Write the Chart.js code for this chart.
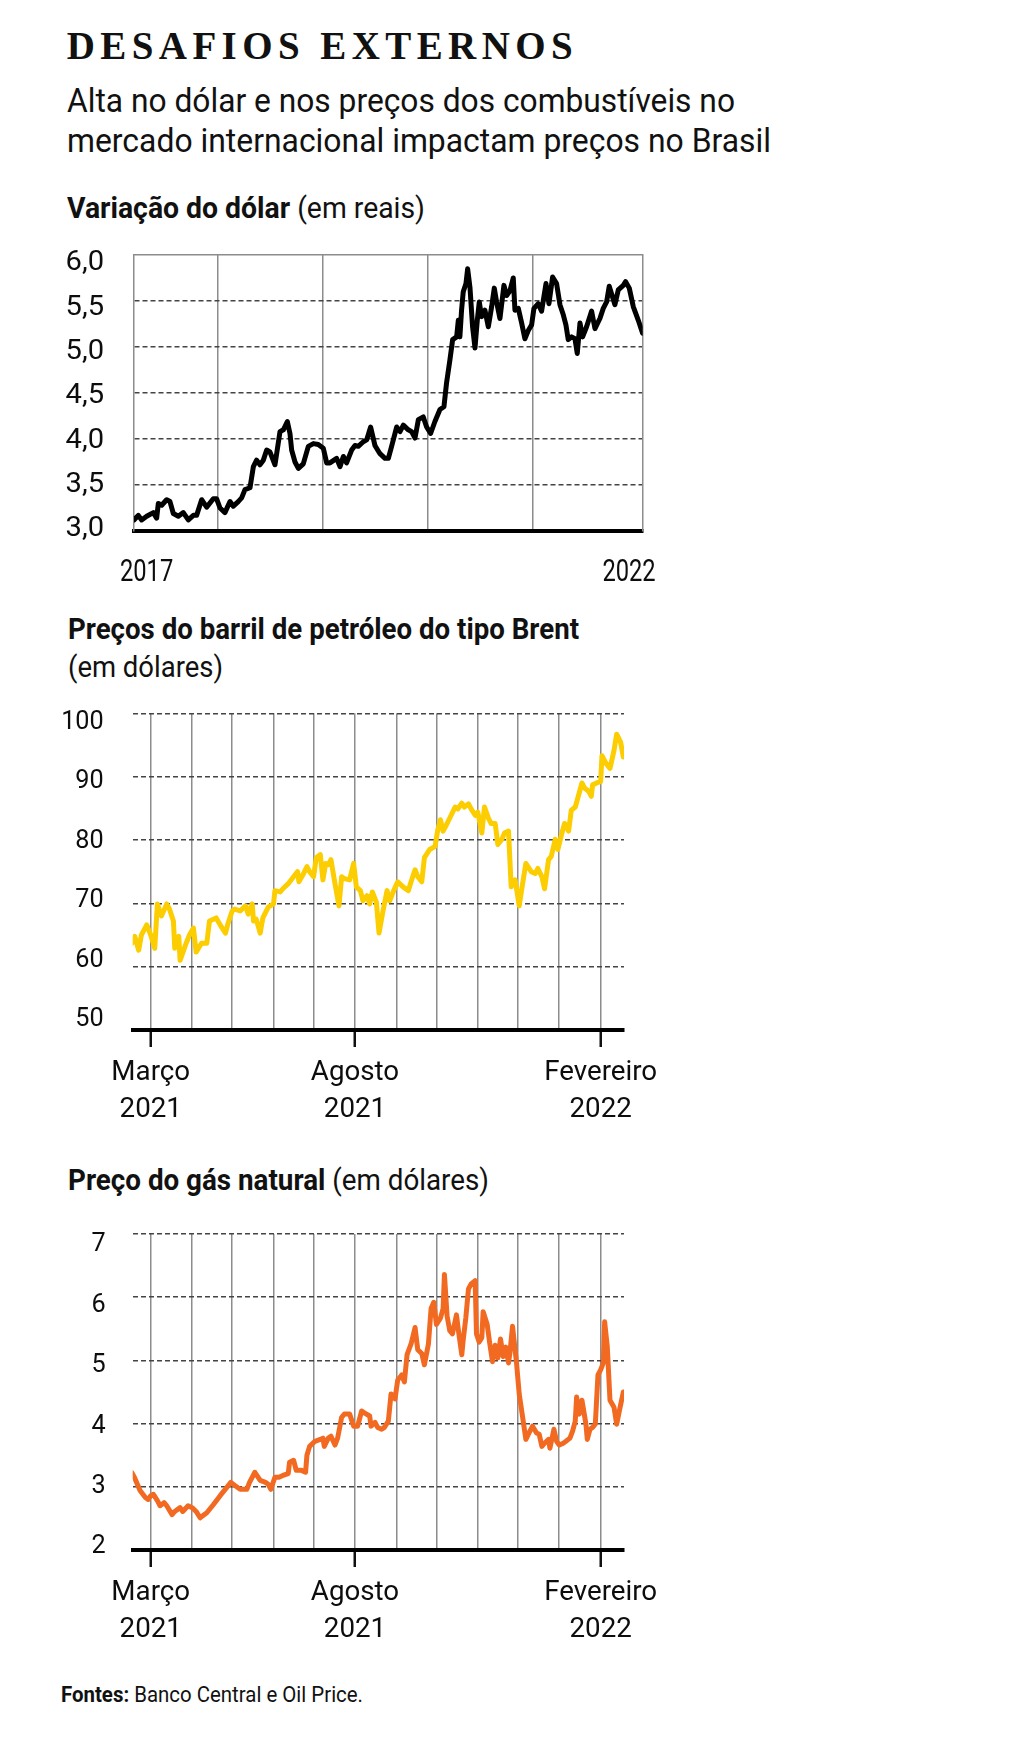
<!DOCTYPE html>
<html lang="pt-BR">
<head>
<meta charset="utf-8">
<script src="https://cdn.jsdelivr.net/npm/chart.js@4.4.1/dist/chart.umd.min.js"></script>
<style>
html,body{margin:0;padding:0;background:#fff;}
body{width:1024px;height:1743px;position:relative;overflow:hidden;}
.t{position:absolute;white-space:nowrap;line-height:1;color:#111;transform-origin:0 0;
   font-family:Roboto,'Liberation Sans',sans-serif;}
.t b{font-weight:700;}
#title{font-family:'Liberation Serif','DejaVu Serif',serif;font-weight:700;font-size:39px;}
#sub1,#sub2{font-size:34px;}
#h1,#h2,#h2b,#h3{font-size:30px;}
#foot{font-size:22px;}
canvas{position:absolute;left:0;}
</style>
</head>
<body>
<div class="t" id="title">DESAFIOS EXTERNOS</div>
<div class="t" id="sub1">Alta no dólar e nos preços dos combustíveis no</div>
<div class="t" id="sub2">mercado internacional impactam preços no Brasil</div>
<div class="t" id="h1"><b>Variação do dólar</b> (em reais)</div>
<div class="t" id="h2"><b>Preços do barril de petróleo do tipo Brent</b></div>
<div class="t" id="h2b">(em dólares)</div>
<div class="t" id="h3"><b>Preço do gás natural</b> (em dólares)</div>
<div class="t" id="foot"><b>Fontes:</b> Banco Central e Oil Price.</div>

<canvas id="c1" width="1024" height="360" style="top:240px"></canvas>
<canvas id="c2" width="1024" height="440" style="top:690px"></canvas>
<canvas id="c3" width="1024" height="450" style="top:1210px"></canvas>

<script>
// ---------------- DATA ----------------
// Dólar (R$), eixo x em anos decimais
const dolarAnos = [
2017.200,2017.241,2017.273,2017.321,2017.384,2017.416,2017.432,2017.464,2017.511,2017.543,
2017.575,2017.623,2017.670,2017.718,2017.766,2017.797,2017.845,2017.893,2017.956,2017.988,
2018.020,2018.067,2018.115,2018.147,2018.194,2018.226,2018.258,2018.306,2018.338,2018.369,
2018.401,2018.433,2018.465,2018.496,2018.544,2018.592,2018.624,2018.662,2018.687,2018.703,
2018.735,2018.767,2018.814,2018.862,2018.910,2018.957,2019.005,2019.037,2019.068,2019.132,
2019.164,2019.196,2019.227,2019.275,2019.307,2019.338,2019.386,2019.418,2019.456,2019.497,
2019.545,
2019.593,2019.625,2019.656,2019.704,2019.736,2019.768,2019.815,2019.847,2019.879,2019.911,
2019.958,2019.990,2020.028,2020.069,2020.117,2020.155,2020.180,2020.212,2020.238,2020.276,
2020.292,2020.307,2020.323,2020.339,2020.365,2020.381,2020.403,2020.428,2020.451,2020.473,
2020.492,2020.514,2020.546,2020.578,2020.610,2020.635,2020.657,2020.689,2020.727,2020.753,
2020.784,2020.816,2020.832,2020.864,2020.896,2020.927,2020.959,2020.991,2021.013,2021.054,
2021.086,2021.128,2021.156,2021.191,2021.229,2021.261,2021.293,2021.318,2021.340,2021.372,
2021.404,2021.426,2021.452,2021.477,2021.515,2021.563,2021.595,2021.642,2021.674,2021.706,
2021.731,2021.753,2021.785,2021.817,2021.865,2021.887,2021.922,2021.960,2022.008,2022.049];
const dolarValores = [
3.12,3.17,3.12,3.16,3.20,3.14,3.30,3.28,3.34,3.32,
3.19,3.16,3.20,3.12,3.17,3.17,3.34,3.26,3.35,3.35,
3.25,3.20,3.32,3.27,3.32,3.36,3.45,3.47,3.70,3.77,
3.72,3.77,3.88,3.86,3.72,4.08,4.10,4.19,4.06,3.88,
3.75,3.68,3.73,3.92,3.95,3.94,3.90,3.74,3.74,3.79,
3.70,3.81,3.74,3.88,3.93,3.92,3.97,3.99,4.13,3.93,
3.84,
3.79,3.79,3.92,4.13,4.08,4.15,4.10,4.08,4.01,4.21,
4.24,4.13,4.06,4.19,4.32,4.35,4.61,4.86,5.08,5.11,
5.29,5.11,5.40,5.60,5.69,5.85,5.65,5.22,4.99,5.29,
5.49,5.33,5.40,5.22,5.44,5.64,5.49,5.31,5.67,5.56,
5.61,5.75,5.40,5.42,5.26,5.09,5.18,5.24,5.42,5.47,
5.39,5.69,5.47,5.76,5.69,5.46,5.35,5.24,5.08,5.11,
5.09,4.93,5.26,5.11,5.22,5.39,5.20,5.31,5.42,5.49,
5.66,5.58,5.46,5.62,5.67,5.71,5.64,5.44,5.29,5.15];
const dolarGradeAnos = [2018, 2019, 2020, 2021];
const dolarRotulos = ['2017', '2022'];
const dolarRotulosPos = [2017.32, 2021.92];
const dolarYTicks = [3.0, 3.5, 4.0, 4.5, 5.0, 5.5, 6.0];

// Petróleo Brent (US$), eixo x em dias desde 1/3/2021
const brentDias = [
-14,-12,-9,-7,-3,0,3,5,8,12, 14,17,18,21,22,26,29,32,34,38,
42,44,47,49,52,56,58,61,63,67, 71,73,76,77,79,82,84,88,92,93,
97,99,103,107,110,111,114,117,119,122, 124,127,129,131,133,135,138,141,143,145,
149,152,154,157,159,162,164,166,169,171, 174,177,179,182,185,189,193,195,198,200,
203,205,209,213,215,217,219,222,225,228, 230,233,235,238,240,243,245,248,250,253,
255,258,260,263,265,268,270,273,276,279, 281,285,288,290,293,295,298,300,303,305,
308,310,313,315,318,320,323,325,328,330, 331,334,337,338,341,344,347,349,352,354];
const brentValores = [
63.7,64.8,62.6,65.0,66.6,65.0,62.9,69.9,68.0,69.9, 69.1,67.2,62.9,64.8,61.0,63.4,65.0,66.1,62.3,63.7,
63.7,67.2,67.5,67.7,66.6,65.3,66.9,68.8,69.1,68.8, 69.6,68.3,69.9,67.2,67.5,65.3,67.7,69.4,69.9,72.0,
71.8,72.3,73.1,74.2,75.0,73.4,74.5,75.8,75.0,74.2, 77.2,77.7,73.7,76.3,76.1,76.9,73.1,69.6,74.2,73.9,
73.7,76.3,72.6,72.0,70.4,71.2,69.9,71.8,70.2,65.3, 68.8,72.0,70.4,72.0,73.4,72.6,72.0,73.4,75.3,74.2,
73.4,77.2,78.5,79.0,81.6,83.2,81.4,82.6,83.9,85.2, 84.9,85.8,85.2,85.7,84.9,83.9,84.4,81.1,85.2,83.4,
82.6,82.6,79.3,80.1,81.1,81.4,72.6,73.7,69.6,73.7, 76.3,75.0,74.7,75.5,74.2,72.3,76.9,77.4,80.1,78.5,
81.1,82.6,81.4,84.7,85.2,86.7,89.0,88.2,87.7,86.9, 88.7,89.0,89.2,93.3,92.1,91.3,94.1,96.7,95.4,93.1];

// Gás natural (US$), eixo x em dias desde 1/3/2021
const gasDias = [
-14,-12,-10,-8,-4,-2,0,2,5,7, 10,12,16,18,22,24,28,31,34,37,
42,47,52,57,60,63,67,72,74,78, 82,86,88,90,93,96,99,103,104,107,
109,113,116,117,119,123,127,129,130,133, 135,138,140,143,145,149,152,155,158,160,
164,165,168,170,
173,175,178,180,183,185,188,190,192,195, 198,200,203,205,208,210,212,214,217,219,
220,222,224,226,229,231,233,234,236,238, 240,243,244,246,248,249,252,254,256,258,
260,262,264,266,268,269,271,274,276,279, 281,284,286,289,291,293,295,298,299,302,
304,306,309,311,314,316,318,319,321,323, 326,327,329,331,333,335,337,339,340,342,
344,347,349,351,354];
const gasValores = [
3.22,3.14,3.04,2.94,2.83,2.80,2.86,2.88,2.78,2.70, 2.75,2.70,2.56,2.61,2.67,2.61,2.70,2.67,2.61,2.51,
2.59,2.72,2.86,2.99,3.07,3.02,2.96,2.96,3.07,3.23, 3.10,3.07,3.04,2.96,3.15,3.15,3.18,3.21,3.39,3.42,
3.26,3.26,3.23,3.50,3.64,3.72,3.75,3.77,3.64,3.77, 3.80,3.66,3.77,4.10,4.15,4.15,3.96,3.96,4.20,4.17,
4.12,3.96,4.02,3.94,
3.91,3.94,4.04,4.47,4.39,4.69,4.77,4.66,5.09,5.26, 5.52,5.17,5.11,4.93,5.26,5.82,5.92,5.57,5.67,5.82,
6.36,5.70,5.47,5.42,5.72,5.39,5.09,5.31,5.67,6.13, 6.21,6.26,5.42,5.29,5.36,5.77,5.57,5.26,4.98,5.24,
5.04,5.34,5.06,5.21,4.96,5.11,5.54,4.96,4.47,4.04, 3.75,3.88,3.96,3.85,3.83,3.64,3.69,3.75,3.61,3.91,
3.72,3.66,3.69,3.72,3.77,3.88,4.04,4.42,4.15,4.37, 3.99,3.75,3.91,3.94,3.99,4.77,4.85,4.96,5.61,5.21,
4.37,4.26,3.99,4.20,4.50];

// Eixo mensal (Brent e gás)
const dataInicial = '2021-03-01';
const mesesInicio = ['2021-03-01','2021-04-01','2021-05-01','2021-06-01','2021-07-01','2021-08-01',
                     '2021-09-01','2021-10-01','2021-11-01','2021-12-01','2022-01-01','2022-02-01'];
const rotulosDatas = ['2021-03-01', '2021-08-01', '2022-02-01'];
const rotulosMeses = [['Março', '2021'], ['Agosto', '2021'], ['Fevereiro', '2022']];
const periodoDias = [-13.5, 354.5];
const brentYTicks = [50, 60, 70, 80, 90, 100];
const gasYTicks = [2, 3, 4, 5, 6, 7];

// ---------------- HELPERS ----------------
const FONT = "Roboto,'Liberation Sans',sans-serif";
const dia = s => (Date.parse(s) - Date.parse(dataInicial)) / 864e5;
const mesesDias = mesesInicio.map(dia);
const rotuloDias = rotulosDatas.map(dia);
const INK = '#0d0d0d', GRID = '#8c8c8c', DASH = '#444', NONE = 'rgba(0,0,0,0)';

function place(id, left, baseline, targetW) {
  const el = document.getElementById(id);
  el.style.left = left + 'px'; el.style.top = '0px';
  const p = document.createElement('span');
  p.style.cssText = 'display:inline-block;width:0;height:0;vertical-align:baseline;';
  el.appendChild(p);
  const bl = p.offsetTop;
  el.removeChild(p);
  const w = el.getBoundingClientRect().width;
  el.style.top = (baseline - bl) + 'px';
  if (targetW) el.style.transform = 'scaleX(' + (targetW / w) + ')';
}
function placeSpaced(id, left, baseline, targetW) {
  const el = document.getElementById(id);
  el.style.letterSpacing = '0px';
  const w0 = el.getBoundingClientRect().width;
  const n = el.textContent.length;
  el.style.letterSpacing = ((targetW - w0) / (n - 1)) + 'px';
  place(id, left, baseline, 0);
}

placeSpaced('title', 66.7, 59.3, 506);
place('sub1', 66.7, 111.7, 668);
place('sub2', 66.7, 151.7, 704);
place('h1', 66.7, 218.3, 358);
place('h2', 67.5, 638.5, 511);
place('h2b', 67.5, 676.5, 155);
place('h3', 67.5, 1189.5, 421);
place('foot', 60.7, 1701.7, 302);

Chart.defaults.font.family = FONT;
Chart.defaults.color = INK;

// narrow (condensed) rendering of tick labels, keyed by font size in px
function condense(map) {
  return {
    id: 'condense',
    beforeDraw(chart) {
      const ctx = chart.ctx;
      if (ctx.__condensed) return;
      ctx.__condensed = true;
      const orig = ctx.fillText;
      ctx.fillText = function (text, x, y, maxWidth) {
        const m = /(\d+(?:\.\d+)?)px/.exec(this.font);
        const k = m ? (map[Math.round(parseFloat(m[1]))] || 1) : 1;
        if (k === 1) return orig.call(this, text, x, y, maxWidth);
        this.save();
        this.translate(x, y);
        this.scale(k, 1);
        orig.call(this, text, 0, 0);
        this.restore();
      };
    }
  };
}
const noPad = s => { s.paddingTop = 0; s.paddingBottom = 0; s.paddingLeft = 0; s.paddingRight = 0; };

const lineDS = (xs, ys, color) => ({
  data: xs.map((x, i) => ({x: x, y: ys[i]})),
  borderColor: color, borderWidth: 5, pointRadius: 0, tension: 0,
  borderJoinStyle: 'round', borderCapStyle: 'round', fill: false
});

// label axis: carries only the tick labels (the source spaces them a little tighter than the grid)
function labelAxis(ticksArr, lo, hi, width, pad, size, fmt) {
  return {
    position: 'left', weight: 1, min: lo, max: hi,
    afterBuildTicks: s => { s.ticks = ticksArr.map(v => ({value: v})); },
    afterFit: s => { s.width = width; noPad(s); },
    ticks: { padding: pad, font: { size: size }, color: INK, callback: fmt || (v => v) },
    grid: { display: false, drawTicks: false },
    border: { display: false }
  };
}

// ---------------- CHART 1: DÓLAR ----------------
new Chart(document.getElementById('c1'), {
  type: 'line',
  data: { datasets: [lineDS(dolarAnos, dolarValores, '#000')] },
  plugins: [condense({28: 1.04, 32: 0.74})],
  options: {
    responsive: false, animation: false,
    layout: { padding: { top: 15, right: 381.3, left: 0, bottom: 0 } },
    plugins: { legend: { display: false }, tooltip: { enabled: false } },
    scales: {
      x: {
        type: 'linear', min: 2017.2, max: 2022.05,
        afterBuildTicks: s => { s.ticks = dolarGradeAnos.concat(dolarRotulosPos).sort((a,b)=>a-b).map(v => ({value: v})); },
        afterFit: s => { s.height = 69; noPad(s); },
        ticks: {
          autoSkip: false, maxRotation: 0, minRotation: 0, padding: 23,
          font: { size: 32 }, color: INK,
          callback: v => { const i = dolarRotulosPos.indexOf(v); return i >= 0 ? dolarRotulos[i] : ''; }
        },
        grid: { color: c => dolarGradeAnos.includes(c.tick.value) ? GRID : NONE, lineWidth: 1.5, drawTicks: false },
        border: { display: true, color: '#000', width: 4 }
      },
      y: {
        position: 'left', weight: 0, min: 3, max: 6,
        afterBuildTicks: s => { s.ticks = dolarYTicks.map(v => ({value: v})); },
        afterFit: s => { s.width = 0; noPad(s); },
        ticks: { display: false },
        grid: { color: c => (c.tick.value === 3 || c.tick.value === 6) ? NONE : DASH, lineWidth: 1.5, drawTicks: false },
        border: { display: true, color: GRID, width: 1.5, dash: [5, 3] }
      },
      yRotulos: labelAxis(dolarYTicks, 2.98, 6.094, 134, 30, 28, v => v.toFixed(1).replace('.', ',')),
      yTopo: {
        position: 'right', min: 3, max: 6,
        afterBuildTicks: s => { s.ticks = [{value: 6}]; },
        afterFit: s => { s.width = 0; noPad(s); },
        ticks: { display: false },
        grid: { color: GRID, lineWidth: 1.5, drawTicks: false },
        border: { display: true, color: GRID, width: 1.5 }
      }
    }
  }
});

// ---------------- CHARTS 2 & 3 ----------------
function monthlyChart(id, xs, ys, color, yTicks, padTop, xHeight, yPad, labLo, labHi) {
  const yMin = yTicks[0], yMax = yTicks[yTicks.length - 1];
  return new Chart(document.getElementById(id), {
    type: 'line',
    data: { datasets: [lineDS(xs, ys, color)] },
    plugins: [condense({26: 0.97, 28: 0.99})],
    options: {
      responsive: false, animation: false,
      layout: { padding: { top: padTop, right: 400, left: 0, bottom: 0 } },
      plugins: { legend: { display: false }, tooltip: { enabled: false } },
      scales: {
        x: {
          type: 'linear', min: periodoDias[0], max: periodoDias[1],
          afterBuildTicks: s => { s.ticks = mesesDias.map(v => ({value: v})); },
          afterFit: s => { s.height = xHeight; noPad(s); },
          ticks: {
            autoSkip: false, maxRotation: 0, minRotation: 0, padding: 8,
            font: { size: 28, lineHeight: 1.3 }, color: INK,
            callback: v => { const i = rotuloDias.indexOf(v); return i >= 0 ? rotulosMeses[i] : ''; }
          },
          grid: {
            color: GRID, lineWidth: 1.5, drawTicks: true, tickLength: 17,
            tickColor: c => rotuloDias.includes(c.tick.value) ? '#111' : NONE, tickWidth: 2.5
          },
          border: { display: true, color: '#000', width: 4 }
        },
        y: {
          position: 'left', weight: 0, min: yMin, max: yMax,
          afterBuildTicks: s => { s.ticks = yTicks.map(v => ({value: v})); },
          afterFit: s => { s.width = 0; noPad(s); },
          ticks: { display: false },
          grid: { color: c => c.tick.value === yMin ? NONE : DASH, lineWidth: 1.5, drawTicks: false },
          border: { display: false, dash: [5, 3] }
        },
        yRotulos: labelAxis(yTicks, labLo, labHi, 132.7, yPad, 26)
      }
    }
  });
}
monthlyChart('c2', brentDias, brentValores, '#FCCD00', brentYTicks, 23.3, 100, 29, 48.23, 101.55);
monthlyChart('c3', gasDias, gasValores, '#F26A21', gasYTicks, 24, 110, 27, 1.945, 7.182);
</script>
</body>
</html>
